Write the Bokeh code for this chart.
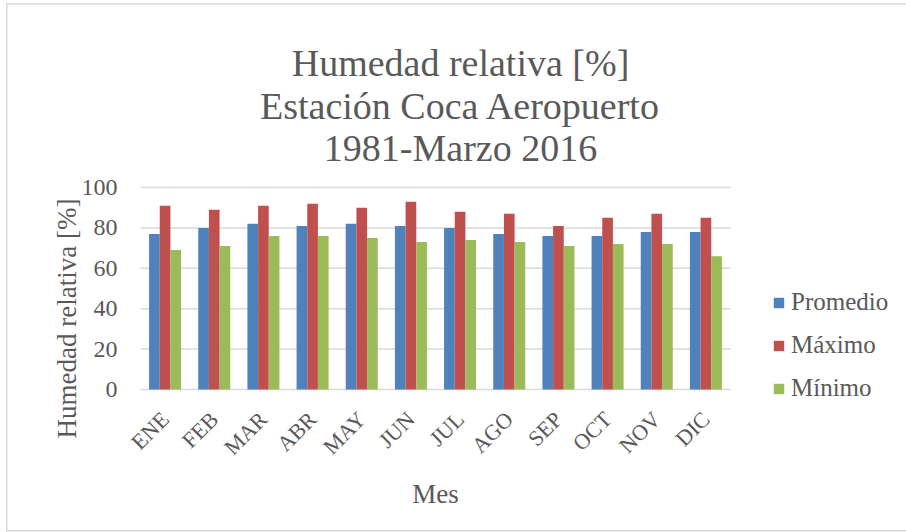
import math
from bokeh.plotting import figure
from bokeh.models import Range1d, Legend, LegendItem
from bokeh.embed import file_html
from bokeh.resources import INLINE
from bokeh.core.properties import value

months = ["ENE", "FEB", "MAR", "ABR", "MAY", "JUN", "JUL", "AGO", "SEP", "OCT", "NOV", "DIC"]
promedio = [77, 80, 82, 81, 82, 81, 80, 77, 76, 76, 78, 78]
maximo = [91, 89, 91, 92, 90, 93, 88, 87, 81, 85, 87, 85]
minimo = [69, 71, 76, 76, 75, 73, 74, 73, 71, 72, 72, 66]
y_ticks = [0, 20, 40, 60, 80, 100]
series_names = ["Promedio", "Máximo", "Mínimo"]
series_colors = ["#4F81BD", "#C0504D", "#9BBB59"]
title_lines = ["Humedad relativa [%]", "Estación Coca Aeropuerto", "1981-Marzo 2016"]
y_label = "Humedad relativa [%]"
x_label = "Mes"

FONT = "Liberation Serif"
TXT = "#595959"
GRID = "#D9D9D9"

W, H = 906, 532
# plot area of the chart in canvas pixels (category axis 0..12, value axis 0..100)
PL, PR, PT, PB = 140, 730, 187, 389
UX = (PR - PL) / len(months)        # px per category
UY = (PB - PT) / 100.0              # px per unit of humidity

def dx(px):
    return (px - PL) / UX

def dy(py):
    return (PB - py) / UY

p = figure(width=W, height=H, title=None,
           x_range=Range1d(dx(0), dx(W)), y_range=Range1d(dy(H), dy(0)),
           x_axis_location=None, y_axis_location=None,
           output_backend="svg", toolbar_location=None, min_border=0)
p.outline_line_color = None
p.background_fill_color = None
p.border_fill_color = None
p.xgrid.visible = False
p.ygrid.visible = False
# light chart-area border drawn behind the transparent canvas
p.stylesheets = [
    ":host { background:"
    " linear-gradient(#D9D9D9,#D9D9D9) 6px 3px / 1.5px 528px no-repeat,"
    " linear-gradient(#D9D9D9,#D9D9D9) 6px 3px / 900px 1.5px no-repeat,"
    " linear-gradient(#D9D9D9,#D9D9D9) 6px 530px / 900px 1.5px no-repeat,"
    " white; }"
]

n = len(months)
centers = [i + 0.5 for i in range(n)]

# horizontal gridlines at the value ticks
p.segment(x0=[0] * len(y_ticks), x1=[n] * len(y_ticks), y0=y_ticks, y1=y_ticks,
          line_color=GRID, line_width=1.5)

# bars
bw = 0.217
renderers = []
for k, (vals, col) in enumerate(zip([promedio, maximo, minimo], series_colors)):
    r = p.vbar(x=[c + (k - 1) * bw for c in centers], top=vals, bottom=0, width=bw,
               fill_color=col, line_color=None)
    renderers.append(r)

# value-axis tick labels
p.text(x=dx(117), y=y_ticks, text=[str(t) for t in y_ticks], text_align="right",
       text_baseline="middle", text_font=value(FONT), text_font_size="24px", text_color=TXT)

# category tick labels, rotated 45 degrees
p.text(x=centers, y=dy(415), text=months, angle=math.pi / 4, text_align="right",
       text_baseline="middle", text_font=value(FONT), text_font_size="22px", text_color=TXT)

# axis titles
p.text(x=dx(435), y=dy(493), text=[x_label], text_align="center", text_baseline="alphabetic",
       text_font=value(FONT), text_font_size="27px", text_color=TXT)
p.text(x=dx(66), y=dy(318), text=[y_label], angle=math.pi / 2, text_align="center",
       text_baseline="alphabetic", text_font=value(FONT), text_font_size="27px", text_color=TXT)

# chart title
p.text(x=dx(460), y=[dy(62), dy(105), dy(147)], text=title_lines, text_align="center",
       text_baseline="alphabetic", text_font=value(FONT), text_font_size="38px", text_color=TXT)

legend = Legend(items=[LegendItem(label=nm, renderers=[r]) for nm, r in zip(series_names, renderers)],
                location=(772, H - 402))
legend.background_fill_alpha = 0
legend.border_line_color = None
legend.padding = 0
legend.margin = 0
legend.glyph_width = 13
legend.glyph_height = 13
legend.label_standoff = 6
legend.label_height = 24
legend.spacing = 15
legend.label_text_font = FONT
legend.label_text_font_size = "25px"
legend.label_text_color = TXT
p.add_layout(legend)

open("out.html", "w").write(file_html(p, INLINE))
